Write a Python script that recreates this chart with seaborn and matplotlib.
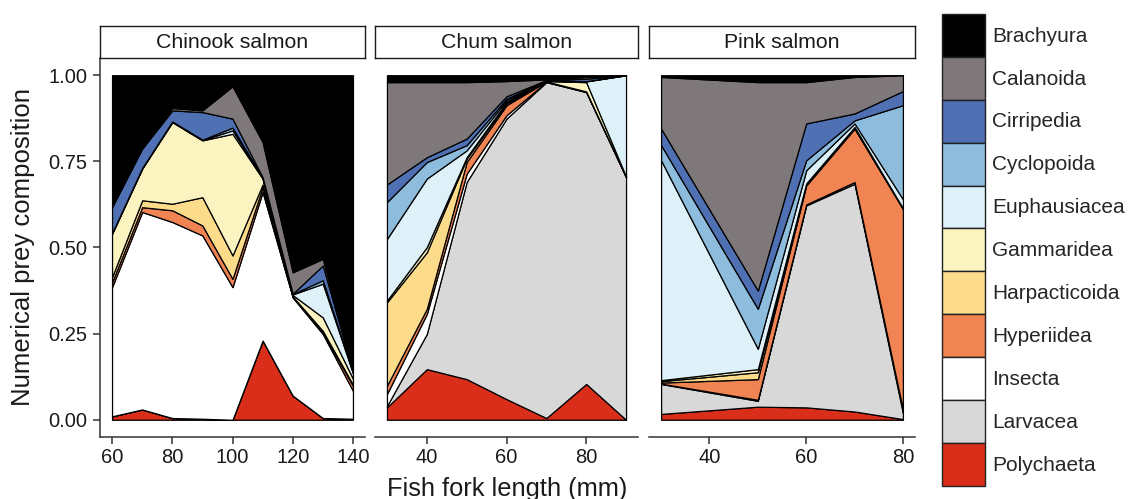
import numpy as np
import pandas as pd
import matplotlib
matplotlib.use("Agg")
import matplotlib.pyplot as plt
import seaborn as sns
from matplotlib.patches import Patch

# ---------------- data ----------------
prey = ["Polychaeta", "Larvacea", "Insecta", "Hyperiidea", "Harpacticoida",
        "Gammaridea", "Euphausiacea", "Cyclopoida", "Cirripedia", "Calanoida",
        "Brachyura"]
prey_colors = ["#d92e1a", "#d8d8d8", "#ffffff", "#f08452", "#fcdc8a",
               "#fbf4c1", "#dff1f8", "#8dbcdc", "#5070b4", "#7f787a",
               "#000000"]

panels = ["Chinook salmon", "Chum salmon", "Pink salmon"]

chinook_length = [60, 70, 80, 90, 100, 110, 120, 130, 140]
chinook = {
    "Polychaeta":    [0.010, 0.030, 0.005, 0.003, 0.000, 0.230, 0.070, 0.005, 0.003],
    "Larvacea":      [0.000, 0.000, 0.000, 0.000, 0.000, 0.000, 0.000, 0.000, 0.000],
    "Insecta":       [0.375, 0.573, 0.569, 0.532, 0.385, 0.431, 0.285, 0.244, 0.081],
    "Hyperiidea":    [0.014, 0.014, 0.034, 0.029, 0.024, 0.014, 0.002, 0.004, 0.015],
    "Harpacticoida": [0.015, 0.020, 0.019, 0.082, 0.068, 0.008, 0.001, 0.005, 0.003],
    "Gammaridea":    [0.126, 0.092, 0.237, 0.165, 0.353, 0.017, 0.004, 0.039, 0.017],
    "Euphausiacea":  [0.001, 0.001, 0.001, 0.001, 0.010, 0.001, 0.002, 0.098, 0.016],
    "Cyclopoida":    [0.001, 0.001, 0.001, 0.001, 0.008, 0.001, 0.001, 0.010, 0.003],
    "Cirripedia":    [0.075, 0.056, 0.032, 0.080, 0.026, 0.002, 0.001, 0.043, 0.002],
    "Calanoida":     [0.003, 0.005, 0.007, 0.005, 0.094, 0.102, 0.062, 0.019, 0.002],
    "Brachyura":     [0.380, 0.208, 0.095, 0.102, 0.032, 0.194, 0.572, 0.533, 0.858],
}

chum_length = [30, 40, 50, 60, 70, 80, 90]
chum = {
    "Polychaeta":    [0.036, 0.147, 0.118, 0.060, 0.005, 0.104, 0.000],
    "Larvacea":      [0.004, 0.102, 0.572, 0.814, 0.975, 0.847, 0.704],
    "Insecta":       [0.035, 0.058, 0.024, 0.010, 0.001, 0.001, 0.001],
    "Hyperiidea":    [0.024, 0.015, 0.034, 0.029, 0.001, 0.001, 0.000],
    "Harpacticoida": [0.242, 0.164, 0.010, 0.005, 0.000, 0.000, 0.000],
    "Gammaridea":    [0.005, 0.015, 0.004, 0.004, 0.001, 0.027, 0.001],
    "Euphausiacea":  [0.179, 0.199, 0.020, 0.005, 0.001, 0.002, 0.294],
    "Cyclopoida":    [0.107, 0.048, 0.015, 0.005, 0.001, 0.001, 0.000],
    "Cirripedia":    [0.051, 0.014, 0.019, 0.007, 0.001, 0.007, 0.000],
    "Calanoida":     [0.297, 0.218, 0.164, 0.044, 0.002, 0.005, 0.000],
    "Brachyura":     [0.020, 0.020, 0.020, 0.017, 0.012, 0.005, 0.000],
}

pink_length = [30, 50, 60, 70, 80]
pink = {
    "Polychaeta":    [0.017, 0.038, 0.036, 0.024, 0.002],
    "Larvacea":      [0.087, 0.017, 0.586, 0.661, 0.018],
    "Insecta":       [0.001, 0.003, 0.003, 0.005, 0.010],
    "Hyperiidea":    [0.003, 0.060, 0.055, 0.155, 0.582],
    "Harpacticoida": [0.004, 0.020, 0.003, 0.002, 0.001],
    "Gammaridea":    [0.003, 0.009, 0.003, 0.003, 0.001],
    "Euphausiacea":  [0.638, 0.059, 0.038, 0.010, 0.026],
    "Cyclopoida":    [0.044, 0.116, 0.029, 0.009, 0.273],
    "Cirripedia":    [0.048, 0.053, 0.107, 0.020, 0.041],
    "Calanoida":     [0.150, 0.605, 0.120, 0.106, 0.046],
    "Brachyura":     [0.005, 0.020, 0.020, 0.005, 0.000],
}

y_ticks = [0.00, 0.25, 0.50, 0.75, 1.00]
y_tick_labels = ["0.00", "0.25", "0.50", "0.75", "1.00"]
x_ticks = [[60, 80, 100, 120, 140], [40, 60, 80], [40, 60, 80]]

# long-form table
rows = []
for name, lengths, comp in zip(panels, [chinook_length, chum_length, pink_length],
                               [chinook, chum, pink]):
    for p in prey:
        for L, v in zip(lengths, comp[p]):
            rows.append({"species": name, "length": L, "prey": p, "prop": v})
df = pd.DataFrame(rows)

# ---------------- style ----------------
sns.set_theme(style="white")
plt.rcParams["font.family"] = ["Liberation Sans", "DejaVu Sans"]

W, H = 1128, 499
fig = plt.figure(figsize=(W / 100, H / 100), dpi=100)

def fx(px):
    return px / W

def fy(px):
    return 1 - px / H

panel_px = [(100, 365), (375, 638), (649, 915)]
top_px, bottom_px, strip_top_px = 58, 437, 26
axis_col = "#333333"
txt_col = "#1a1a1a"
tick_fs = 14.5

for i, (name, (l, r)) in enumerate(zip(panels, panel_px)):
    ax = fig.add_axes([fx(l), fy(bottom_px), fx(r - l), (bottom_px - top_px) / H])
    sub = df[df["species"] == name].pivot(index="length", columns="prey", values="prop")[prey]
    xs = sub.index.values
    ax.stackplot(xs, *[sub[p].values for p in prey], colors=prey_colors,
                 edgecolor="black", linewidth=0.9)
    span = xs.max() - xs.min()
    ax.set_xlim(xs.min() - 0.05 * span, xs.max() + 0.05 * span)
    ax.set_ylim(-0.05, 1.05)
    ax.set_xticks(x_ticks[i])
    ax.set_xticklabels([str(t) for t in x_ticks[i]])
    ax.set_yticks(y_ticks)
    sns.despine(ax=ax, top=True, right=True, left=(i != 0))
    ax.spines["bottom"].set_color(axis_col)
    ax.spines["bottom"].set_linewidth(1.1)
    if i == 0:
        ax.spines["left"].set_color(axis_col)
        ax.spines["left"].set_linewidth(1.1)
        ax.set_yticklabels(y_tick_labels)
        ax.tick_params(axis="y", left=True, length=5, width=1.1, color=axis_col,
                       labelsize=tick_fs, labelcolor=txt_col, pad=4)
    else:
        ax.tick_params(axis="y", left=False, labelleft=False)
    ax.tick_params(axis="x", bottom=True, length=5, width=1.1, color=axis_col,
                   labelsize=tick_fs, labelcolor=txt_col, pad=3)
    ax.set_xlabel("")
    ax.set_ylabel("")
    ax.set_facecolor("white")

    # strip
    sax = fig.add_axes([fx(l), fy(top_px), fx(r - l), (top_px - strip_top_px) / H])
    sax.set_xticks([])
    sax.set_yticks([])
    for s in sax.spines.values():
        s.set_visible(True)
        s.set_color(txt_col)
        s.set_linewidth(1.0)
    sax.set_facecolor("white")
    sax.text(0.5, 0.47, name, ha="center", va="center", fontsize=15.3,
             color=txt_col, transform=sax.transAxes)

fig.text(fx(507), fy(496), "Fish fork length (mm)", ha="center", va="baseline",
         fontsize=18.3, color=txt_col)
fig.text(fx(23), fy(247), "Numerical prey composition", ha="center", va="center",
         rotation=90, fontsize=18.5, color=txt_col)

fs = 15
fs_px = fs * 100 / 72
key_w = 43.1 / fs_px
key_h = 2.79
handles = [Patch(facecolor=c, edgecolor="#222222", linewidth=1.0, label=p)
           for p, c in zip(prey[::-1], prey_colors[::-1])]
fig.legend(handles=handles, loc="upper left", bbox_to_anchor=(fx(942), fy(14)),
           frameon=False, fontsize=fs, handlelength=key_w, handleheight=key_h,
           labelspacing=0, borderpad=0, borderaxespad=0, handletextpad=0.35)

fig.savefig("out.png", dpi=100)
